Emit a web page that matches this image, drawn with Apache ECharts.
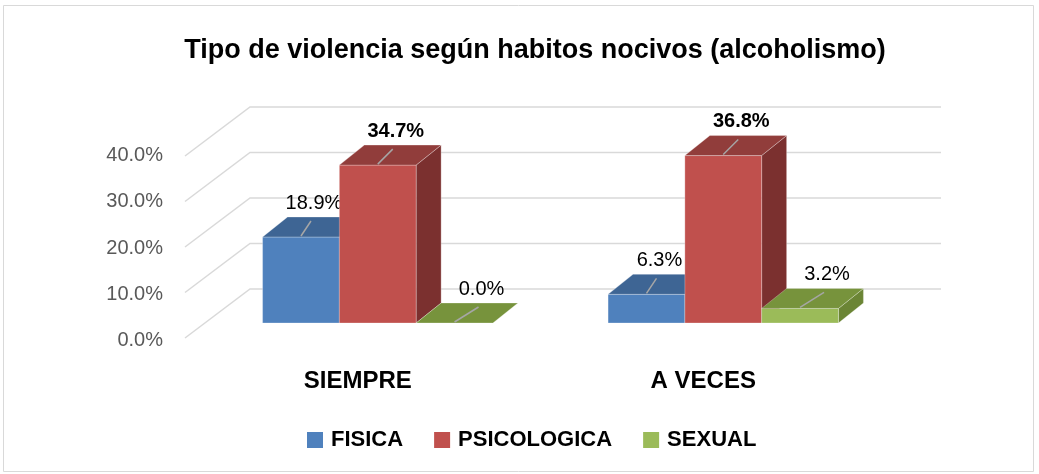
<!DOCTYPE html>
<html>
<head>
<meta charset="utf-8">
<script src="https://cdn.jsdelivr.net/npm/echarts@6/dist/echarts.min.js"></script>
<style>
html,body{margin:0;padding:0;background:#fff;}
#chart{width:1039px;height:474px;}
</style>
</head>
<body>
<div id="chart"></div>
<script>
const categories = ['SIEMPRE', 'A VECES'];
const seriesNames = ['FISICA', 'PSICOLOGICA', 'SEXUAL'];
const fisica = [18.9, 6.3];
const psicologica = [34.7, 36.8];
const sexual = [0.0, 3.2];
const yTicks = [0, 10, 20, 30, 40];
const yTickLabels = ['0.0%', '10.0%', '20.0%', '30.0%', '40.0%'];

const seriesValues = [fisica, psicologica, sexual];
const frontColors = ['#4F81BD', '#C0504D', '#9BBB59'];
const topColors = ['#3E6594', '#913D3B', '#77933C'];
const sideColors = ['#385D8A', '#7B302F', '#6B8535'];
const labelBold = [false, true, false];
const labelDx = [10, 15, 24];
const FONT = '"Liberation Sans", Arial, sans-serif';

const chart = echarts.init(document.getElementById('chart'));

function barRenderer(si) {
  return function (params, api) {
    const ci = api.value(0);
    const v = api.value(1);
    const base = api.coord([ci, 0]);
    const top = api.coord([ci, v]);
    const band = api.size([1, 0])[0];
    const w = band * 2 / 9;
    const x0 = base[0] + (si - 1.5) * w;
    const x1 = x0 + w;
    const ty = top[1], by = base[1];
    const dx = 25, dy = -20;
    const edge = 'rgba(255,255,255,0.35)';
    const cx = (x0 + x1) / 2;
    const txt = v.toFixed(1) + '%';
    return {
      type: 'group',
      children: [
        { type: 'polygon', shape: { points: [[x1, ty], [x1 + dx, ty + dy], [x1 + dx, by + dy], [x1, by]] },
          style: { fill: sideColors[si], stroke: edge, lineWidth: 0.8 } },
        { type: 'rect', shape: { x: x0, y: ty, width: w, height: by - ty },
          style: { fill: frontColors[si], stroke: edge, lineWidth: 0.8 } },
        { type: 'polygon', shape: { points: [[x0, ty], [x1, ty], [x1 + dx, ty + dy], [x0 + dx, ty + dy]] },
          style: { fill: topColors[si], stroke: edge, lineWidth: 0.8 } },
        { type: 'line', shape: { x1: cx, y1: ty - 1, x2: cx + labelDx[si], y2: ty - 16 },
          style: { stroke: '#A6A6A6', lineWidth: 1.5 } },
        { type: 'text', x: cx + labelDx[si] + 3, y: ty - 34,
          style: { text: txt, fill: '#000', font: (labelBold[si] ? 'bold ' : '') + '20px ' + FONT,
                   textAlign: 'center', textVerticalAlign: 'middle' } }
      ]
    };
  };
}

function frameRenderer(params, api) {
  const v = api.value(1);
  const p = api.coord([0, v]);
  const cs = params.coordSys;
  const left = cs.x, right = cs.x + cs.width;
  const y = p[1];
  const fx = -20, fy = 15, bx = 45, by = -34;
  return {
    type: 'group',
    children: [
      { type: 'polyline',
        shape: { points: [[left + fx, y + fy], [left + bx, y + by], [right + bx, y + by]] },
        style: { stroke: '#D9D9D9', lineWidth: 1.5, fill: null } },
      { type: 'text', x: left + fx - 22, y: y + fy + 1 + (v - 20) * -0.08,
        style: { text: yTickLabels[params.dataIndex], fill: '#595959', font: '20px ' + FONT,
                 textAlign: 'right', textVerticalAlign: 'middle' } }
    ]
  };
}

const series = [{
  type: 'custom',
  name: 'frame',
  data: yTicks.map(t => [0, t]),
  encode: { x: 0, y: 1 },
  renderItem: frameRenderer,
  silent: true,
  z: 1
}];
seriesValues.forEach((vals, si) => {
  series.push({
    type: 'custom',
    name: seriesNames[si],
    data: vals.map((v, i) => [i, v]),
    encode: { x: 0, y: 1 },
    renderItem: barRenderer(si),
    itemStyle: { color: frontColors[si] },
    z: 2 + si
  });
});

chart.setOption({
  animation: false,
  backgroundColor: '#fff',
  title: {
    text: 'Tipo de violencia según habitos nocivos (alcoholismo)',
    left: 530, top: 32, textAlign: 'center',
    textStyle: { fontFamily: FONT, fontWeight: 'bold', fontSize: 27, color: '#000' }
  },
  legend: {
    data: seriesNames,
    left: 302, top: 424,
    icon: 'rect', itemWidth: 16, itemHeight: 16, itemGap: 31,
    textStyle: { fontFamily: FONT, fontWeight: 'bold', fontSize: 22, color: '#000', padding: [0, 0, 0, 3] }
  },
  grid: { left: 205, right: 143, top: 141, bottom: 151 },
  xAxis: {
    type: 'category', data: categories,
    axisLine: { show: false }, axisTick: { show: false }, splitLine: { show: false },
    axisLabel: { margin: 46, fontFamily: FONT, fontWeight: 'bold', fontSize: 24, color: '#000', padding: [0, 40, 0, 0] }
  },
  yAxis: {
    type: 'value', min: 0, max: 40, interval: 10,
    axisLine: { show: false }, axisTick: { show: false }, splitLine: { show: false },
    axisLabel: { show: false }
  },
  graphic: [{
    type: 'rect', shape: { x: 3.5, y: 5.5, width: 1030, height: 466 },
    style: { fill: null, stroke: '#D9D9D9', lineWidth: 1 }, silent: true, z: 0
  }],
  series: series
});
</script>
</body>
</html>
